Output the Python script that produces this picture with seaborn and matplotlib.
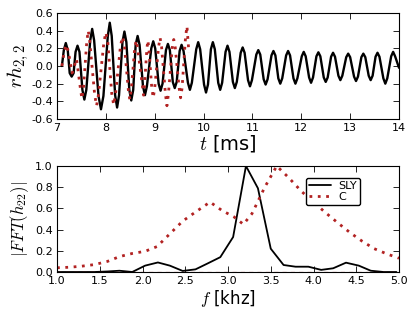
#!/usr/bin/env python3
"""
Waveform and spectrum comparison, SLY vs C
"""

import matplotlib
matplotlib.use("Agg")
import matplotlib.pyplot as plt
import seaborn as sns
import numpy as np
import pandas as pd

# top panel: rh_22 (t in ms), peaks with shoulders
t_sly = [7.10,
         7.14, 7.18, 7.22, 7.26, 7.30, 7.34, 7.38, 7.42, 7.46, 7.52, 7.56, 7.60,
         7.68, 7.72, 7.76, 7.85, 7.90, 7.95, 8.04, 8.08, 8.12, 8.19, 8.23, 8.27,
         8.34, 8.38, 8.42, 8.48, 8.52, 8.56, 8.61, 8.65, 8.69, 8.76, 8.80, 8.84,
         8.93, 8.97, 9.01, 9.08, 9.12, 9.16, 9.23, 9.27, 9.31, 9.37, 9.41, 9.45,
         9.51, 9.55, 9.59, 9.68, 9.72, 9.76, 9.85, 9.89, 9.93, 10.01, 10.05, 10.09,
         10.15, 10.19, 10.23, 10.30, 10.34, 10.38, 10.45, 10.49, 10.53,
         10.60, 10.64, 10.68, 10.76, 10.80, 10.84, 10.91, 10.95, 10.99,
         11.08, 11.12, 11.16, 11.23, 11.27, 11.31, 11.39, 11.43, 11.47,
         11.53, 11.57, 11.61, 11.69, 11.73, 11.77, 11.84, 11.88, 11.92,
         12.01, 12.05, 12.09, 12.16, 12.20, 12.24, 12.31, 12.35, 12.39,
         12.46, 12.50, 12.54, 12.61, 12.65, 12.69, 12.76, 12.80, 12.84,
         12.92, 12.96, 13.00, 13.08, 13.12, 13.16, 13.23, 13.27, 13.31,
         13.38, 13.42, 13.46, 13.52, 13.56, 13.60, 13.68, 13.72, 13.76,
         13.84, 13.88, 13.92, 14.00]
h_sly = [0.0,
         0.18, 0.26, 0.18, -0.08, -0.12, -0.08, 0.16, 0.23, 0.16, -0.27, -0.38, -0.27,
         0.29, 0.42, 0.29, -0.34, -0.49, -0.34, 0.34, 0.49, 0.34, -0.33, -0.47, -0.33,
         0.27, 0.39, 0.27, -0.27, -0.39, -0.27, 0.24, 0.34, 0.24, -0.23, -0.33, -0.23,
         0.20, 0.28, 0.20, -0.20, -0.28, -0.20, 0.18, 0.25, 0.18, -0.18, -0.25, -0.18,
         0.17, 0.24, 0.17, -0.19, -0.27, -0.19, 0.19, 0.27, 0.19, -0.21, -0.30, -0.21,
         0.19, 0.27, 0.19, -0.19, -0.27, -0.19, 0.16, 0.23, 0.16,
         -0.18, -0.25, -0.18, 0.15, 0.21, 0.15, -0.16, -0.23, -0.16,
         0.13, 0.18, 0.13, -0.15, -0.21, -0.15, 0.12, 0.17, 0.12,
         -0.14, -0.20, -0.14, 0.12, 0.17, 0.12, -0.14, -0.20, -0.14,
         0.11, 0.16, 0.11, -0.13, -0.19, -0.13, 0.11, 0.155, 0.11,
         -0.13, -0.18, -0.13, 0.105, 0.15, 0.105, -0.11, -0.16, -0.11,
         0.10, 0.14, 0.10, -0.12, -0.17, -0.12, 0.10, 0.14, 0.10,
         -0.11, -0.16, -0.11, 0.105, 0.15, 0.105, -0.14, -0.20, -0.14,
         0.11, 0.16, 0.11, -0.02]

t_c = [7.10, 7.15, 7.19, 7.23, 7.31, 7.40, 7.48, 7.51, 7.54, 7.61, 7.64, 7.67,
       7.77, 7.81, 7.85, 7.96, 8.00, 8.04, 8.12, 8.16, 8.20, 8.30, 8.34, 8.38,
       8.46, 8.49, 8.52, 8.59, 8.62, 8.65, 8.75, 8.77, 8.79, 8.84, 8.86, 8.88,
       8.94, 8.97, 9.00, 9.08, 9.11, 9.14, 9.22, 9.25, 9.28, 9.36, 9.39, 9.42,
       9.50, 9.53, 9.56, 9.63, 9.66, 9.70]
h_c = [0.0, 0.17, 0.24, 0.17, -0.08, 0.08, -0.26, -0.37, -0.26, 0.28, 0.40, 0.28,
       -0.32, -0.45, -0.32, 0.27, 0.38, 0.27, -0.31, -0.44, -0.31, 0.23, 0.33, 0.23,
       -0.27, -0.38, -0.27, 0.20, 0.29, 0.20, -0.23, -0.33, -0.23, 0.20, 0.29, 0.20,
       -0.25, -0.36, -0.25, 0.22, 0.32, 0.22, -0.32, -0.45, -0.32, 0.21, 0.30, 0.21,
       -0.25, -0.36, -0.25, 0.32, 0.45, 0.15]

# bottom panel: normalised |FFT(h22)| (f in kHz)
f_sly = [1.00, 1.15, 1.29, 1.44, 1.59, 1.73, 1.88, 2.03, 2.18, 2.32, 2.47, 2.62,
         2.76, 2.91, 3.06, 3.21, 3.35, 3.50, 3.65, 3.79, 3.94, 4.09, 4.23, 4.38,
         4.53, 4.67, 4.82, 4.97]
fft_sly = [0.0, 0.0, 0.0, 0.0, 0.005, 0.012, 0.0, 0.06, 0.09, 0.06, 0.01, 0.025,
           0.08, 0.14, 0.33, 1.0, 0.79, 0.22, 0.066, 0.05, 0.05, 0.02, 0.035, 0.088,
           0.06, 0.012, 0.0, 0.0]

f_c = [1.00, 1.15, 1.29, 1.44, 1.59, 1.73, 1.88, 2.03, 2.17, 2.32, 2.47, 2.61,
       2.79, 2.93, 3.07, 3.18, 3.28, 3.43, 3.57, 3.71, 3.86, 4.00, 4.14, 4.29,
       4.43, 4.57, 4.71, 4.86, 5.00]
fft_c = [0.04, 0.045, 0.055, 0.07, 0.10, 0.145, 0.175, 0.195, 0.24, 0.36, 0.48, 0.56,
         0.66, 0.58, 0.52, 0.45, 0.55, 0.80, 1.0, 0.89, 0.76, 0.66, 0.56, 0.46,
         0.37, 0.29, 0.22, 0.17, 0.13]

f_zero = [1.0, 5.0]
fft_zero = [0.0, 0.0]

RED = "#b22222"

sns.set_style("ticks")
plt.rcParams["font.family"] = ["DejaVu Sans"]
plt.rcParams["mathtext.fontset"] = "cm"
plt.rcParams["axes.unicode_minus"] = False
plt.rcParams["xtick.direction"] = "in"
plt.rcParams["ytick.direction"] = "in"
plt.rcParams["xtick.top"] = True
plt.rcParams["ytick.right"] = True
for key in ("text.color", "axes.labelcolor", "xtick.color", "ytick.color"):
    plt.rcParams[key] = "black"

fig = plt.figure(figsize=(4.15, 3.12), dpi=100)
ax1 = fig.add_axes([57 / 415, 1 - 119 / 312, 342 / 415, 106 / 312])
ax2 = fig.add_axes([57 / 415, 1 - 272 / 312, 342 / 415, 106 / 312])

# top: waveforms
sns.lineplot(x=t_sly, y=h_sly, ax=ax1, color="black", lw=1.7, sort=False)
sns.lineplot(x=t_c, y=h_c, ax=ax1, color=RED, lw=2.0, sort=False,
             linestyle=(0, (1, 2)))
ax1.set_xlim(7, 14)
ax1.set_ylim(-0.6, 0.6)
ax1.set_xticks(np.arange(7, 15, 1))
ax1.set_yticks(np.arange(-0.6, 0.61, 0.2))
ax1.set_xlabel("$t$ [ms]", fontsize=14, labelpad=0)
ax1.set_ylabel("$rh_{2,2}$", fontsize=15)
ax1.yaxis.set_label_coords(-0.076, 0.5)

# bottom: spectra
spec = pd.concat([
    pd.DataFrame({"f": f_sly, "amp": fft_sly, "model": "SLY"}),
    pd.DataFrame({"f": f_c, "amp": fft_c, "model": "C"}),
])
sns.lineplot(data=spec[spec.model == "SLY"], x="f", y="amp", ax=ax2,
             color="black", lw=1.3, label="SLY")
sns.lineplot(data=spec[spec.model == "C"], x="f", y="amp", ax=ax2,
             color=RED, lw=2.0, linestyle=(0, (1, 2)), label="C")
ax2.plot(f_zero, fft_zero, color=RED, lw=1.0, alpha=0.4, linestyle=(0, (3, 3)))
ax2.set_xlim(1.0, 5.0)
ax2.set_ylim(0, 1.0)
ax2.set_xticks(np.arange(1.0, 5.01, 0.5))
ax2.set_yticks(np.arange(0, 1.01, 0.2))
ax2.set_xlabel("$f$ [khz]", fontsize=12, labelpad=1)
ax2.set_ylabel("$|FFT(h_{22})|$", fontsize=12)
ax2.yaxis.set_label_coords(-0.076, 0.5)
ax2.legend(loc="upper right", bbox_to_anchor=(0.886, 0.89), fontsize=8,
           frameon=True, fancybox=True, edgecolor="black", framealpha=1,
           handlelength=2.0, handletextpad=0.6, borderpad=0.3,
           labelspacing=0.1, borderaxespad=0)

for ax in (ax1, ax2):
    ax.tick_params(labelsize=8, length=4, width=0.6, pad=3)
    for sp in ax.spines.values():
        sp.set_visible(True)
        sp.set_linewidth(0.8)
        sp.set_color("black")

fig.savefig("out.png", dpi=100)
